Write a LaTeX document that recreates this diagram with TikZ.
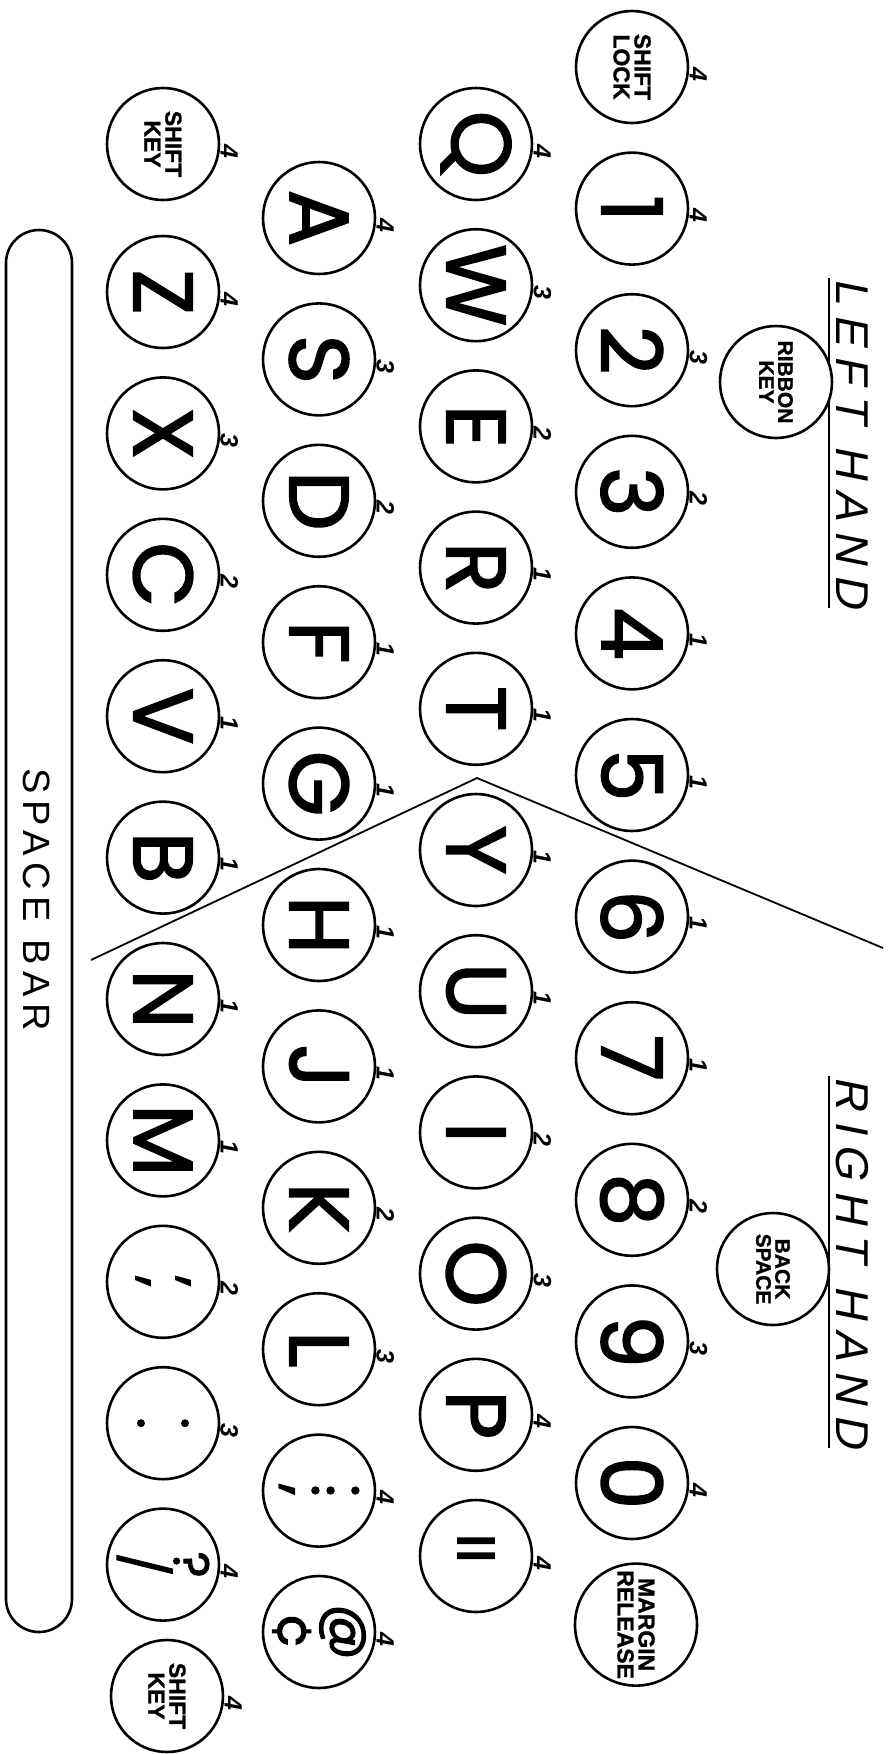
\documentclass[tikz,border=0pt]{standalone}
\usepackage{fontspec}
\setmainfont{Liberation Sans}
\newfontfamily\keyfont[FakeBold=2]{Poppins}
\newfontfamily\labelfont[BoldFeatures={FakeBold=1.2}]{Liberation Sans}
\newfontfamily\handfont[LetterSpace=23,FakeSlant=0.2]{Liberation Sans}
\newfontfamily\barfont[LetterSpace=18]{Liberation Sans}

\tikzset{
	keycap/.style={circle, draw, line width=2.6pt, fill=white, minimum size=112pt,
		inner sep=0pt, font=\keyfont\fontsize{84}{84}\selectfont},
	funckey/.style={keycap, align=center, font=\labelfont\bfseries\fontsize{23}{21}\selectfont},
	pairkey/.style={keycap, align=center, font=\keyfont\fontsize{55}{40}\selectfont},
	fing/.style={font=\bfseries\itshape\fontsize{25}{25}\selectfont, inner sep=0pt,
		label distance=4pt, anchor=south, xshift=3pt},
	handtext/.style={font=\handfont\fontsize{46}{46}\selectfont, inner sep=0pt, anchor=base}
}

\begin{document}
\begin{tikzpicture}[x=1pt,y=1pt]
	\useasboundingbox (0,0) rectangle (890,-1754);
	\begin{scope}[rotate=-90, transform shape]
		
		% hand headings
		\node[handtext] (lefthand) at (443,836) {LEFT HAND};
		\node[handtext] (righthand) at (1262,836) {RIGHT HAND};
		\draw[line width=2.2pt]
		([yshift=-7pt]lefthand.base west) -- ([yshift=-7pt]lefthand.base east);
		\draw[line width=2.2pt]
		([yshift=-7pt]righthand.base west) -- ([yshift=-7pt]righthand.base east);
		
		% dividing line between the hands
		\coordinate (divL) at (960,91);
		\coordinate (divA) at (778,477);
		\coordinate (divR) at (948,883);
		\draw[line width=1.8pt] (divL) -- (divA) -- (divR);
		
		% top row
		\node[funckey, label={[fing]90:4}] (shiftlock) at (67,632) {SHIFT\\LOCK};
		\node[keycap, label={[fing]90:4}] (k1) at (208.6,632) {1};
		\node[keycap, label={[fing]90:3}] (k2) at (350.2,632) {2};
		\node[keycap, label={[fing]90:2}] (k3) at (491.8,632) {3};
		\node[keycap, label={[fing]90:1}] (k4) at (633.4,632) {4};
		\node[keycap, label={[fing]90:1}] (k5) at (775,632) {5};
		\node[keycap, label={[fing]90:1}] (k6) at (916.6,632) {6};
		\node[keycap, label={[fing]90:1}] (k7) at (1058.2,632) {7};
		\node[keycap, label={[fing]90:2}] (k8) at (1199.8,632) {8};
		\node[keycap, label={[fing]90:3}] (k9) at (1341.4,632) {9};
		\node[keycap, label={[fing]90:4}] (k0) at (1483,632) {0};
		\node[funckey, minimum size=122pt] (margin) at (1624.6,636) {MARGIN\\RELEASE};
		
		\node[funckey, font=\labelfont\bfseries\fontsize{21}{19}\selectfont] (ribbon) at (382,776) {RIBBON\\KEY};
		\node[funckey, font=\labelfont\bfseries\fontsize{21}{19}\selectfont] (backspace) at (1269,773) {BACK\\SPACE};
		
		% second row
		\node[keycap, label={[fing]90:4}] (kq) at (144,476) {Q};
		\node[keycap, label={[fing]90:3}] (kw) at (285.2,476) {W};
		\node[keycap, label={[fing]90:2}] (ke) at (426.4,476) {E};
		\node[keycap, label={[fing]90:1}] (kr) at (567.6,476) {R};
		\node[keycap, label={[fing]90:1}] (kt) at (708.8,476) {T};
		\node[keycap, label={[fing]90:1}] (ky) at (850,476) {Y};
		\node[keycap, label={[fing]90:1}] (ku) at (991.2,476) {U};
		\node[keycap, label={[fing]90:2}] (ki) at (1132.4,476) {I};
		\node[keycap, label={[fing]90:3}] (ko) at (1273.6,476) {O};
		\node[keycap, label={[fing]90:4}] (kp) at (1414.8,476) {P};
		\node[keycap, font=\keyfont\fontsize{70}{70}\selectfont, label={[fing]90:4}] (keq) at (1556,476) {\rotatebox{90}{=}};
		
		% home row
		\node[keycap, label={[fing]90:4}] (ka) at (218,319) {A};
		\node[keycap, label={[fing]90:3}] (ks) at (359.4,319) {S};
		\node[keycap, label={[fing]90:2}] (kd) at (500.8,319) {D};
		\node[keycap, label={[fing]90:1}] (kf) at (642.2,319) {F};
		\node[keycap, label={[fing]90:1}] (kg) at (783.6,319) {G};
		\node[keycap, label={[fing]90:1}] (kh) at (925,319) {H};
		\node[keycap, label={[fing]90:1}] (kj) at (1066.4,319) {J};
		\node[keycap, label={[fing]90:2}] (kk) at (1207.8,319) {K};
		\node[keycap, label={[fing]90:3}] (kl) at (1349.2,319) {L};
		\node[pairkey, font=\keyfont\fontsize{58}{40}\selectfont, label={[fing]90:4}] (ksemi) at (1490.6,319) {:\\;};
		\node[pairkey, font=\keyfont\fontsize{55}{53}\selectfont, label={[fing]90:4}] (kat) at (1632,319) {@\\¢};
		
		% bottom row
		\node[funckey, label={[fing]90:4}] (lshift) at (144,163) {SHIFT\\KEY};
		\node[keycap, label={[fing]90:4}] (kz) at (292,163) {Z};
		\node[keycap, label={[fing]90:3}] (kx) at (433.4,163) {X};
		\node[keycap, label={[fing]90:2}] (kc) at (574.8,163) {C};
		\node[keycap, label={[fing]90:1}] (kv) at (716.2,163) {V};
		\node[keycap, label={[fing]90:1}] (kb) at (857.6,163) {B};
		\node[keycap, label={[fing]90:1}] (kn) at (999,163) {N};
		\node[keycap, label={[fing]90:1}] (km) at (1140.4,163) {M};
		\node[pairkey, label={[fing]90:2}] (kcomma) at (1281.8,163) {,\\,};
		\node[pairkey, font=\keyfont\fontsize{55}{44}\selectfont, label={[fing]90:3}] (kdot) at (1423.2,163) {.\\.};
		\node[pairkey, font=\keyfont\fontsize{50}{42}\selectfont, label={[fing]90:4}] (kslash) at (1564.6,163) {?\\/};
		\node[funckey, label={[fing]90:4}] (rshift) at (1696,167) {SHIFT\\KEY};
		
		% space bar
		\node[draw, line width=2.6pt, rounded corners=33pt, minimum width=1402pt,
		minimum height=66pt, inner sep=0pt] (spacebar) at (931,39) {};
		\node[font=\barfont\fontsize{38}{38}\selectfont, inner sep=0pt] (barlabel) at (900,37) {SPACE BAR};
	\end{scope}
\end{tikzpicture}
\end{document}
